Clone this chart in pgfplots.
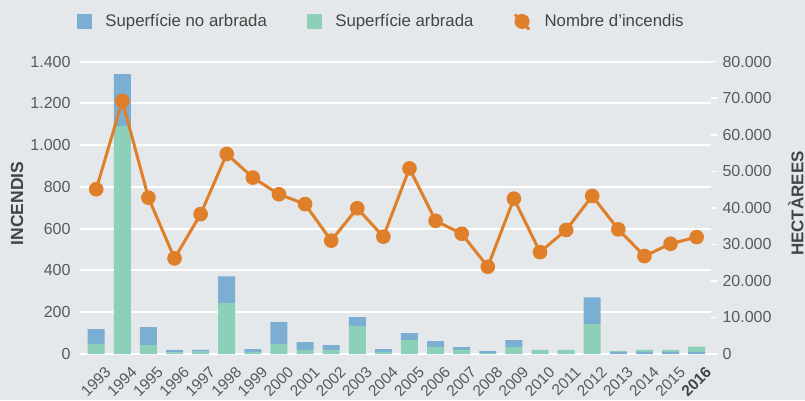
\documentclass[border=0pt]{standalone}
\usepackage{pgfplots}
\usepackage{pgfplotstable}
\pgfplotsset{compat=1.18}
\usepackage{fontspec}
\setmainfont{Liberation Sans}
\definecolor{bg}{HTML}{E4E8EA}
\definecolor{cblue}{HTML}{7BAED2}
\definecolor{cgreen}{HTML}{8CD0B9}
\definecolor{corange}{HTML}{E07F2A}
\definecolor{txt}{HTML}{5A5A5A}
\definecolor{lbl}{HTML}{444444}

\pgfplotstableread{
x year green blue blueb inc
0 1993 2700 4100 0 789
1 1994 62400 14200 0 1212
2 1995 2450 4900 0 749
3 1996 450 650 0 458
4 1997 650 450 0 670
5 1998 13900 7350 0 958
6 1999 550 800 0 845
7 2000 2700 6000 0 765
8 2001 1100 2150 0 718
9 2002 1100 1350 0 543
10 2003 7600 2500 0 698
11 2004 550 800 0 562
12 2005 3800 1900 0 889
13 2006 1900 1650 0 638
14 2007 1100 800 0 576
15 2008 270 550 0 418
16 2009 1900 1900 0 744
17 2010 1100 0 0 488
18 2011 1100 0 0 594
19 2012 8200 7300 0 757
20 2013 300 0 500 597
21 2014 550 0 550 469
22 2015 550 0 550 528
23 2016 1450 0 550 560
}\data

\begin{document}
\begin{tikzpicture}
\useasboundingbox (0,0) rectangle (805pt,400pt);
\fill[bg] (0,0) rectangle (805pt,400pt);
% axis 1: left axis, grid, x labels
\begin{axis}[
  at={(80pt,46pt)}, anchor=south west, scale only axis,
  width=631pt, height=292.3pt,
  xmin=-0.62, xmax=23.55, ymin=0, ymax=1400,
  ytick={0,200,...,1400},
  xtick={0,...,23},
  xticklabels={1993,1994,1995,1996,1997,1998,1999,2000,2001,2002,2003,2004,2005,2006,2007,2008,2009,2010,2011,2012,2013,2014,2015,{\bfseries\color{lbl}2016}},
  ymajorgrids, grid style={white, line width=2pt},
  axis line style={draw=none},
  major tick length=0pt, tick style={draw=none},
  scaled y ticks=false,
  /pgf/number format/1000 sep={.},
  /pgf/number format/assume math mode=true,
  tick label style={font=\fontsize{16}{18}\selectfont, text=txt},
  yticklabel style={xshift=-6pt},
  xticklabel style={font=\fontsize{15.5}{17}\selectfont, rotate=45, anchor=north east, inner sep=0pt, xshift=-2.2pt, yshift=-13.5pt},
  ylabel={INCENDIS},
  every axis y label/.style={at={(rel axis cs:-0.0998,0.515)}, rotate=90, anchor=center, font=\fontsize{17.5}{20}\selectfont\bfseries, text=lbl},
]
\addplot[draw=none] coordinates {(0,0)};
\end{axis}
% axis 2: bars, right axis
\begin{axis}[
  at={(80pt,46pt)}, anchor=south west, scale only axis,
  width=631pt, height=292.3pt,
  xmin=-0.62, xmax=23.55, ymin=0, ymax=80000,
  ybar stacked, bar width=17pt,
  xtick=\empty,
  ytick={0,10000,...,80000},
  ytick pos=right, yticklabel pos=right,
  axis line style={draw=none},
  tick align=outside, major tick length=6pt,
  ytick style={white, line width=1.5pt},
  scaled y ticks=false,
  /pgf/number format/1000 sep={.},
  /pgf/number format/assume math mode=true,
  tick label style={font=\fontsize{16}{18}\selectfont, text=txt},
  yticklabel style={xshift=2pt},
  ylabel={HECTÀREES},
  every axis y label/.style={at={(rel axis cs:1.1345,0.515)}, rotate=90, anchor=center, font=\fontsize{17}{20}\selectfont\bfseries, text=lbl},
]
\addplot[fill=cblue, draw=none] table[x=x, y=blueb] {\data};
\addplot[fill=cgreen, draw=none] table[x=x, y=green] {\data};
\addplot[fill=cblue, draw=none] table[x=x, y=blue] {\data};
\draw[white, line width=5pt] ([yshift=-2.5pt]rel axis cs:0,0) -- ([yshift=-2.5pt]rel axis cs:1,0);
\end{axis}
% axis 3: line
\begin{axis}[
  at={(80pt,46pt)}, anchor=south west, scale only axis,
  width=631pt, height=292.3pt,
  xmin=-0.62, xmax=23.55, ymin=0, ymax=1400,
  hide axis, clip=false,
  legend columns=3,
  legend style={at={(-0.0048,1.136)}, anchor=west, draw=none, fill=none,
    inner sep=0pt, outer sep=0pt,
    font=\fontsize{16.8}{19}\selectfont, text=lbl,
    /tikz/every odd column/.append style={column sep=14pt},
    /tikz/every even column/.append style={column sep=40pt},
    nodes={inner sep=0pt}},
  legend cell align=left,
]
\addlegendimage{legend image code/.code={\fill[cblue] (0pt,-7pt) rectangle (14pt,7pt);}}
\addlegendentry{Superfície no arbrada}
\addlegendimage{legend image code/.code={\fill[cgreen] (0pt,-7pt) rectangle (14pt,7pt);}}
\addlegendentry{Superfície arbrada}
\addplot[corange, line width=3pt, mark=*, mark size=5.8pt, mark options={fill=corange, draw=none},
  legend image code/.code={\draw[corange, line width=3pt] (1pt,7pt) -- (15pt,-8pt); \fill[corange] (8pt,0pt) circle (6pt);}]
  table[x=x, y=inc] {\data};
\addlegendentry{Nombre d’incendis}
\end{axis}
\end{tikzpicture}
\end{document}
